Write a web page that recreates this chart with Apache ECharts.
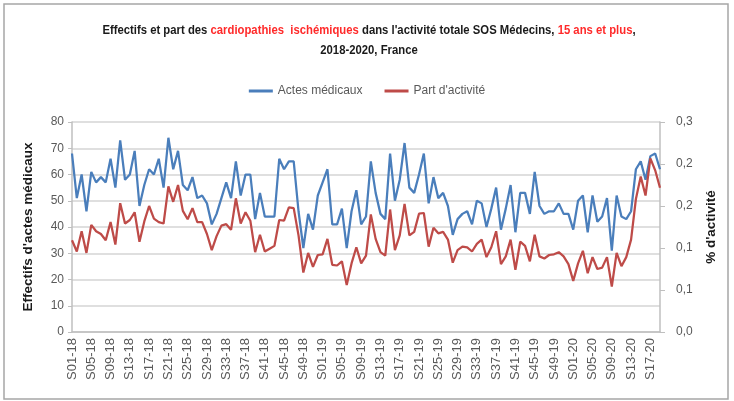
<!DOCTYPE html>
<html>
<head>
<meta charset="utf-8">
<script src="https://cdn.jsdelivr.net/npm/echarts@6/dist/echarts.min.js"></script>
<style>
  html, body { margin: 0; padding: 0; background: #fff; }
  #chart { width: 734px; height: 401px; }
</style>
</head>
<body>
<div id="chart"></div>
<script>
// semaines S01-18 ... S19-20 (ISO, 52 semaines en 2018 et 2019)
const weeks = [];
[['18', 52], ['19', 52], ['20', 19]].forEach(([yr, n]) => {
    for (let w = 1; w <= n; w++) {
        weeks.push('S' + String(w).padStart(2, '0') + '-' + yr);
    }
});

// Actes médicaux (effectifs hebdomadaires)
const actes = [
    68, 51, 60, 46, 61, 57, 59, 57, 66, 55, 73, 58, 60, 69, 48, 56, 62, 60, 66, 55,
    74, 62, 69, 56, 54, 59, 51, 52, 49, 41, 45, 51, 57, 51, 65, 52, 60, 60, 43, 53,
    44, 44, 44, 66, 62, 65, 65, 46, 32, 45, 39, 52, 57, 62, 41, 41, 47, 32, 46, 54,
    41, 44, 65, 53, 45, 43, 68, 50, 58, 72, 55, 53, 60, 68, 49, 59, 51, 53, 48, 37,
    43, 45, 46, 41, 50, 49, 40, 47, 55, 39, 47, 56, 38, 53, 53, 45, 61, 48, 45, 46,
    46, 49, 45, 45, 39, 50, 52, 38, 52, 42, 44, 51, 31, 52, 44, 43, 46, 62, 65, 58,
    67, 68, 62
];

// Part d'activité (%)
const part = [
    0.131, 0.115, 0.144, 0.113, 0.153, 0.144, 0.140, 0.131, 0.157, 0.125,
    0.184, 0.155, 0.160, 0.171, 0.129, 0.158, 0.180, 0.162, 0.157, 0.155,
    0.208, 0.186, 0.210, 0.173, 0.161, 0.177, 0.157, 0.157, 0.140, 0.117,
    0.137, 0.152, 0.154, 0.146, 0.191, 0.155, 0.171, 0.159, 0.114, 0.139,
    0.115, 0.119, 0.123, 0.160, 0.159, 0.178, 0.177, 0.138, 0.085, 0.113,
    0.093, 0.110, 0.111, 0.133, 0.096, 0.095, 0.101, 0.067, 0.098, 0.121,
    0.098, 0.109, 0.168, 0.133, 0.114, 0.109, 0.175, 0.117, 0.138, 0.183,
    0.138, 0.143, 0.169, 0.170, 0.122, 0.149, 0.141, 0.143, 0.132, 0.099,
    0.117, 0.122, 0.121, 0.115, 0.126, 0.132, 0.107, 0.121, 0.144, 0.097,
    0.108, 0.132, 0.089, 0.129, 0.123, 0.101, 0.139, 0.108, 0.105, 0.110,
    0.111, 0.114, 0.108, 0.097, 0.073, 0.098, 0.116, 0.084, 0.107, 0.090,
    0.092, 0.107, 0.065, 0.113, 0.094, 0.107, 0.132, 0.190, 0.222, 0.195,
    0.248, 0.231, 0.206
];

const FONT = "'Liberation Sans', sans-serif";
const GREY = '#595959';
const DARK = '#1a1a1a';

const chart = echarts.init(document.getElementById('chart'));
chart.setOption({
    animation: false,
    backgroundColor: '#fff',
    legend: {
        top: 80,
        left: 'center',
        icon: 'rect',
        itemWidth: 24,
        itemHeight: 3,
        itemGap: 22,
        textStyle: { fontFamily: FONT, fontSize: 12, color: GREY },
        data: ['Actes médicaux', "Part d'activité"]
    },
    graphic: [{
        type: 'rect',
        shape: { x: 4, y: 4, width: 724, height: 395 },
        style: { fill: 'none', stroke: '#a6a6a6', lineWidth: 1.5 },
        silent: true
    }, {
        // titre sur deux lignes, texte condensé horizontalement
        type: 'text',
        x: 369,
        y: 40,
        scaleX: 0.87,
        silent: true,
        style: {
            text: "{a|Effectifs et part des }{r|cardiopathies  ischémiques}{a| dans l'activité totale SOS Médecins, }{r|15 ans et plus}{a|,}\n{a|2018-2020, France}",
            align: 'center',
            verticalAlign: 'middle',
            rich: {
                a: { fontFamily: FONT, fontSize: 13, fontWeight: 'bold', fill: DARK, lineHeight: 20 },
                r: { fontFamily: FONT, fontSize: 13, fontWeight: 'bold', fill: '#ff2a2a', lineHeight: 20 }
            }
        }
    }],
    grid: {
        left: 72,
        right: 74,
        top: 122,
        height: 210
    },
    xAxis: {
        type: 'category',
        data: weeks,
        boundaryGap: false,
        axisLine: { lineStyle: { color: '#bfbfbf', width: 1.5 } },
        axisTick: { show: false },
        axisLabel: {
            interval: 3,
            rotate: 90,
            margin: 6,
            fontFamily: FONT,
            fontSize: 13,
            color: GREY
        }
    },
    yAxis: [{
        type: 'value',
        min: 0,
        max: 80,
        interval: 10,
        name: "Effectifs d'actes médicaux",
        nameLocation: 'middle',
        nameRotate: 90,
        nameGap: 37,
        nameTextStyle: { fontFamily: FONT, fontSize: 13.5, fontWeight: 'bold', color: DARK },
        axisLine: { show: true, lineStyle: { color: '#bfbfbf', width: 1.5 } },
        axisTick: { show: true, length: 4, lineStyle: { color: '#bfbfbf' } },
        axisLabel: { fontFamily: FONT, fontSize: 12, color: GREY, margin: 8 },
        splitLine: { lineStyle: { color: '#d4d4d4', width: 1.5 } }
    }, {
        type: 'value',
        min: 0,
        max: 0.3,
        interval: 0.06,
        name: "% d'activité",
        nameLocation: 'middle',
        nameRotate: 90,
        nameGap: 44,
        nameTextStyle: { fontFamily: FONT, fontSize: 13.5, fontWeight: 'bold', color: DARK },
        axisLine: { show: true, lineStyle: { color: '#bfbfbf', width: 1.5 } },
        axisTick: { show: true, length: 5, lineStyle: { color: '#bfbfbf' } },
        axisLabel: {
            fontFamily: FONT,
            fontSize: 12,
            color: GREY,
            margin: 16,
            formatter: v => v.toFixed(1).replace('.', ',')
        },
        splitLine: { show: false }
    }],
    series: [{
        name: 'Actes médicaux',
        type: 'line',
        data: actes,
        symbol: 'none',
        lineStyle: { color: '#4a7ebb', width: 2.25 },
        itemStyle: { color: '#4a7ebb' }
    }, {
        name: "Part d'activité",
        type: 'line',
        yAxisIndex: 1,
        data: part,
        symbol: 'none',
        lineStyle: { color: '#be4b48', width: 2.25 },
        itemStyle: { color: '#be4b48' }
    }]
});
</script>
</body>
</html>
